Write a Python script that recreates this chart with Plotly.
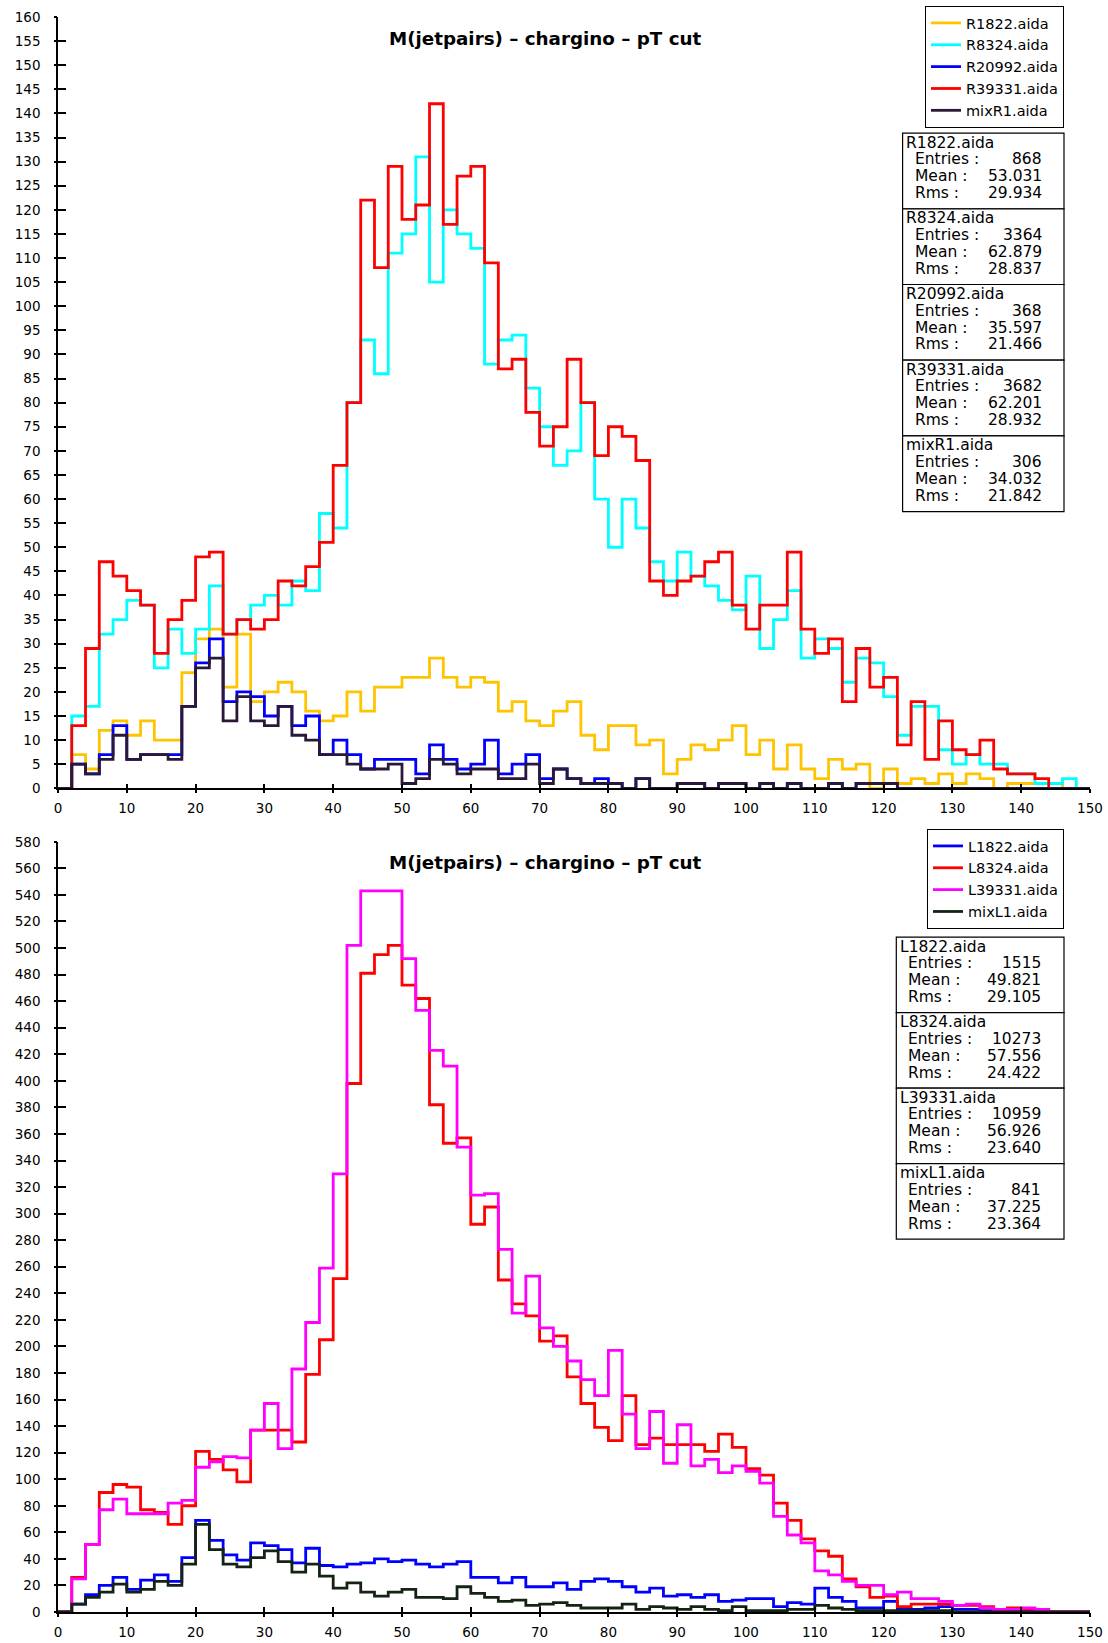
import numpy as np
import plotly.graph_objects as go

# ---------------- data (bin width 2, lower edges 0,2,...,148) ----------------
BIN_WIDTH = 2
X_TICKS = list(range(0, 151, 10))

r1822 = [0,7,4,12,14,11,14,10,10,24,31,33,21,32,18,20,22,20,16,14,15,20,16,21,21,23,23,27,23,21,
         23,22,16,18,14,13,16,18,11,8,13,13,9,10,3,6,9,8,10,13,7,10,4,9,4,2,6,4,5,0,
         4,1,2,1,3,1,3,2,0,1,1,1,1,0,0]
r8324 = [0,15,17,32,35,39,38,25,33,28,33,42,32,35,38,40,38,43,41,57,54,80,93,86,111,115,131,105,120,115,
         112,88,93,94,83,75,67,70,80,60,50,60,54,47,43,49,44,42,39,37,44,29,35,41,27,31,29,22,27,26,
         19,11,17,17,8,5,7,5,5,3,3,1,1,2,0]
r20992 = [0,5,3,7,13,6,7,7,7,17,26,31,18,20,19,15,17,13,15,7,10,7,4,6,6,6,3,9,6,4,
          5,10,3,5,7,2,4,2,1,2,1,0,2,0,0,1,1,0,1,1,0,1,0,1,0,0,1,0,1,1,
          1,0,0,0,0,0,0,0,0,0,0,0,0,0,0]
r39331 = [0,13,29,47,44,41,38,28,35,39,48,49,32,35,33,35,43,42,46,51,67,80,122,108,129,118,121,142,117,127,
          129,109,87,89,78,71,75,89,80,69,75,73,68,43,40,43,44,47,49,38,33,38,38,49,33,28,31,18,29,21,
          23,9,18,6,14,8,7,10,4,3,3,2,0,0,0]
mixR1 = [0,5,3,6,11,6,7,7,6,17,25,27,14,19,14,13,17,11,10,7,7,5,4,4,5,1,2,6,5,3,
         4,4,2,2,5,1,4,2,1,1,1,0,2,0,0,1,1,0,1,1,0,1,0,1,0,0,1,0,1,1,
         1,0,0,0,0,0,0,0,0,0,0,0,0,0,0]

l1822 = [0,6,13,20,26,17,24,28,23,41,69,54,43,39,52,50,47,37,48,35,34,36,37,40,38,39,36,34,36,38,
         26,26,22,26,19,19,22,17,23,25,23,19,15,18,12,13,11,13,8,9,10,10,4,7,6,18,11,8,3,3,
         8,2,2,3,4,2,2,1,1,1,1,0,0,0,0]
l8324 = [0,26,51,90,96,94,77,75,66,80,121,115,107,98,137,137,137,128,179,205,251,398,481,495,502,472,462,382,353,357,
         292,305,250,232,223,204,208,177,157,139,129,163,126,131,126,126,126,121,134,124,108,103,82,69,55,46,42,25,19,11,
         12,4,6,6,6,5,5,4,2,3,2,2,0,0,0]
l39331 = [0,25,51,77,85,74,74,74,82,84,109,113,117,116,137,157,123,183,218,259,330,502,543,543,543,492,453,423,411,350,
          314,315,273,225,253,214,200,189,175,163,197,149,123,151,112,141,110,115,105,110,106,97,72,58,52,31,28,23,20,20,
          13,15,10,10,8,5,6,3,2,2,3,2,0,0,0]
mixL1 = [0,6,11,15,21,15,17,23,20,36,66,47,36,34,41,46,38,30,36,27,18,22,15,12,15,17,11,11,10,19,
         14,11,8,9,5,6,7,5,3,3,3,6,2,4,3,2,4,2,1,4,1,1,1,2,2,5,3,2,1,1,
         1,1,1,1,1,0,0,0,0,0,0,0,0,0,0]

top_names = ["R1822.aida", "R8324.aida", "R20992.aida", "R39331.aida", "mixR1.aida"]
top_series = [r1822, r8324, r20992, r39331, mixR1]
top_colors = ["#FFC400", "#00FFFF", "#0000FF", "#FF0000", "#2A1838"]
top_entries = ["868", "3364", "368", "3682", "306"]
top_means = ["53.031", "62.879", "35.597", "62.201", "34.032"]
top_rms = ["29.934", "28.837", "21.466", "28.932", "21.842"]

bot_names = ["L1822.aida", "L8324.aida", "L39331.aida", "mixL1.aida"]
bot_series = [l1822, l8324, l39331, mixL1]
bot_colors = ["#0000FF", "#FF0000", "#FF00FF", "#142414"]
bot_entries = ["1515", "10273", "10959", "841"]
bot_means = ["49.821", "57.556", "56.926", "37.225"]
bot_rms = ["29.105", "24.422", "23.640", "23.364"]

TITLE = "M(jetpairs) \u2013 chargino \u2013 pT cut"

# ---------------- layout helpers ----------------
W, H = 1108, 1643
ML, MR, MT, MB = 58, 18, 17, 31
PW, PH = W - ML - MR, H - MT - MB
FONT = "DejaVu Sans"


def px(x):
    return (x - ML) / PW


def py(y):
    return (H - MB - y) / PH


def step_xy(vals):
    edges = BIN_WIDTH * np.arange(len(vals) + 1)
    yv = list(vals) + [vals[-1]]
    return edges, yv


fig = go.Figure()

for name, vals, col in zip(top_names, top_series, top_colors):
    xs, ys = step_xy(vals)
    fig.add_trace(go.Scatter(x=xs, y=ys, mode="lines", line=dict(shape="hv", color=col, width=2.8),
                             name=name, xaxis="x", yaxis="y", legend="legend"))
for name, vals, col in zip(bot_names, bot_series, bot_colors):
    xs, ys = step_xy(vals)
    fig.add_trace(go.Scatter(x=xs, y=ys, mode="lines", line=dict(shape="hv", color=col, width=2.8),
                             name=name, xaxis="x2", yaxis="y2", legend="legend2"))

# dummy traces to carry the overlay axes (for ticks crossing the axis lines)
fig.add_trace(go.Scatter(x=[], y=[], xaxis="x3", yaxis="y3", showlegend=False, hoverinfo="skip"))
fig.add_trace(go.Scatter(x=[], y=[], xaxis="x4", yaxis="y4", showlegend=False, hoverinfo="skip"))

top_dom = [py(788.3), 1.0]
bot_dom = [0.0, py(841.8)]

ax_common = dict(showline=True, linecolor="black", linewidth=1.5, showgrid=False, zeroline=False,
                 automargin=False, tickcolor="black", tickwidth=1.5,
                 tickfont=dict(family=FONT, size=13.5, color="black"))
ov_common = dict(showticklabels=False, showline=False, showgrid=False, zeroline=False, automargin=False,
                 tickcolor="black", tickwidth=1.5, ticks="outside")

fig.update_layout(
    template="none",
    width=W, height=H, margin=dict(l=ML, r=MR, t=MT, b=MB, autoexpand=False),
    paper_bgcolor="white", plot_bgcolor="white",
    xaxis=dict(domain=[0, 1], anchor="y", range=[0, 150], tickvals=X_TICKS, ticks="inside", ticklen=5,
               ticklabelstandoff=7, **ax_common),
    yaxis=dict(domain=top_dom, anchor="x", range=[0, 160], dtick=5, tick0=0, ticks="inside", ticklen=8,
               ticklabelstandoff=13, **ax_common),
    xaxis2=dict(domain=[0, 1], anchor="y2", range=[0, 150], tickvals=X_TICKS, ticks="inside", ticklen=5,
                ticklabelstandoff=7, **ax_common),
    yaxis2=dict(domain=bot_dom, anchor="x2", range=[0, 580], dtick=20, tick0=0, ticks="inside", ticklen=8,
                ticklabelstandoff=13, **ax_common),
    xaxis3=dict(overlaying="x", anchor="y", range=[0, 150], tickvals=X_TICKS, ticklen=4, **ov_common),
    yaxis3=dict(overlaying="y", anchor="x", range=[0, 160], dtick=5, tick0=0, ticklen=3, side="left",
                **ov_common),
    xaxis4=dict(overlaying="x2", anchor="y2", range=[0, 150], tickvals=X_TICKS, ticklen=4, **ov_common),
    yaxis4=dict(overlaying="y2", anchor="x2", range=[0, 580], dtick=20, tick0=0, ticklen=3, side="left",
                **ov_common),
    legend=dict(x=px(1064), xanchor="right", y=py(6), yanchor="top", bordercolor="black", borderwidth=1,
                bgcolor="white", font=dict(family=FONT, size=14.5, color="black"), itemwidth=30,
                tracegroupgap=0),
    legend2=dict(x=px(1064), xanchor="right", y=py(829), yanchor="top", bordercolor="black", borderwidth=1,
                 bgcolor="white", font=dict(family=FONT, size=14.5, color="black"), itemwidth=30,
                 tracegroupgap=0),
    showlegend=True,
)

annotations = []
shapes = []

# titles
for ty in (38.8, 862.7):
    annotations.append(dict(text="<b>" + TITLE + "</b>", x=px(545), y=py(ty), xref="paper", yref="paper",
                            showarrow=False, xanchor="center", yanchor="middle",
                            font=dict(family=FONT, size=18.3, color="black")))


def stat_boxes(names, entries, means, rms, x_left, x_right, top, block_h, name_x, label_x, value_x):
    for i, nm in enumerate(names):
        t = top + i * block_h
        shapes.append(dict(type="rect", xref="paper", yref="paper", x0=px(x_left), x1=px(x_right),
                           y0=py(t), y1=py(t + block_h), line=dict(color="black", width=1.2),
                           fillcolor="white", layer="above"))
        annotations.append(dict(text=nm, x=px(name_x), y=py(t + 9.5), xref="paper", yref="paper",
                                showarrow=False, xanchor="left", yanchor="middle",
                                font=dict(family=FONT, size=15.5, color="black")))
        for j, (lab, val) in enumerate(zip(["Entries :", "Mean :", "Rms :"], [entries[i], means[i], rms[i]])):
            yy = py(t + 26.2 + j * 16.8)
            annotations.append(dict(text=lab, x=px(label_x), y=yy, xref="paper", yref="paper",
                                    showarrow=False, xanchor="left", yanchor="middle",
                                    font=dict(family=FONT, size=15.5, color="black")))
            annotations.append(dict(text=val, x=px(value_x), y=yy, xref="paper", yref="paper",
                                    showarrow=False, xanchor="right", yanchor="middle",
                                    font=dict(family=FONT, size=15.5, color="black")))


stat_boxes(top_names, top_entries, top_means, top_rms, 902.6, 1064, 133.1, 75.7, 903.5, 913.0, 1044.0)
stat_boxes(bot_names, bot_entries, bot_means, bot_rms, 896.3, 1064, 937.2, 75.5, 897.5, 906.0, 1043.0)

fig.update_layout(annotations=annotations, shapes=shapes)

# remove the browser's default page margin so the figure sits at the window origin
fig.write_html("out.html", config={"displayModeBar": False},
               post_script="document.body.style.margin='0';")
